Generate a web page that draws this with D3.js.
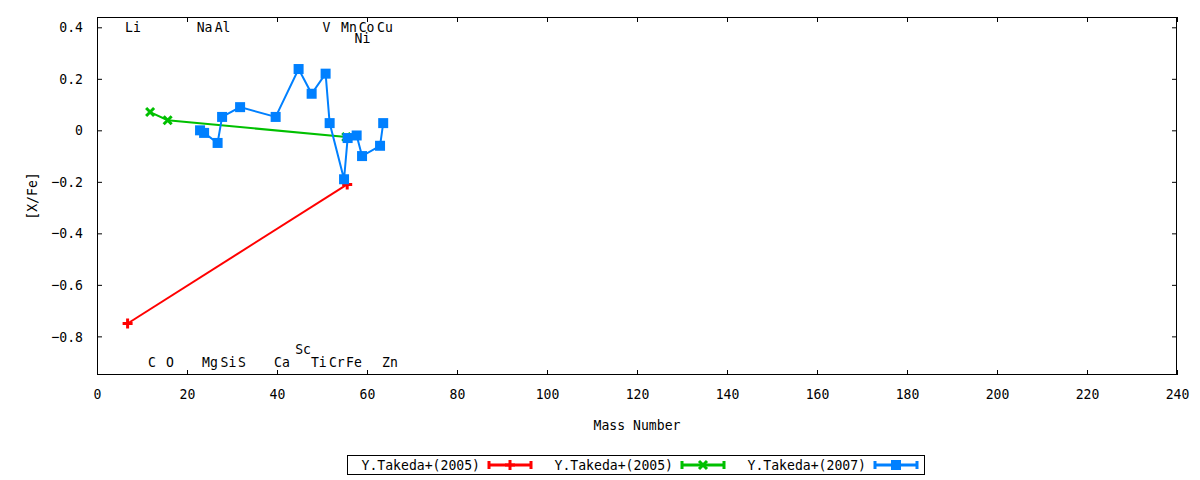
<!DOCTYPE html>
<html><head><meta charset="utf-8">
<script src="https://cdn.jsdelivr.net/npm/d3@7"></script>
<style>
html,body{margin:0;padding:0;background:#fff;}
svg text{font-family:"DejaVu Sans Mono",monospace;font-size:14.5px;fill:#000;}
</style></head>
<body><svg id="chart" width="1200" height="480"></svg>
<script>
// ---- data ----
const seriesNames = ["Y.Takeda+(2005)", "Y.Takeda+(2005)", "Y.Takeda+(2007)"];
const redMass = [6.8, 55.6];
const redVal = [-0.75, -0.21];
const greenMass = [11.8, 15.7, 55.4];
const greenVal = [0.071, 0.039, -0.026];
const blueMass = [22.9, 23.8, 26.8, 27.8, 31.8, 39.7, 44.8, 47.7, 50.8, 51.7, 54.9, 55.7, 57.7, 58.9, 62.9, 63.6];
const blueVal = [0.0, -0.01, -0.049, 0.052, 0.09, 0.052, 0.238, 0.142, 0.22, 0.028, -0.19, -0.03, -0.02, -0.1, -0.06, 0.028];
const elemNames = ["Li","Na","Al","V","Mn","Co","Cu","Ni","C","O","Mg","Si","S","Ca","Sc","Ti","Cr","Fe","Zn"];
const elemX = [8.0, 23.9, 27.9, 51.0, 56.0, 59.9, 64.0, 59.0, 12.2, 16.2, 25.1, 29.2, 32.2, 41.1, 45.8, 49.3, 53.3, 57.1, 65.1];
const elemY = [0.4, 0.4, 0.4, 0.4, 0.4, 0.4, 0.4, 0.36, -0.9, -0.9, -0.9, -0.9, -0.9, -0.9, -0.85, -0.9, -0.9, -0.9, -0.9];
const xTicks = [0,20,40,60,80,100,120,140,160,180,200,220,240];
const yTicks = [0.4,0.2,0,-0.2,-0.4,-0.6,-0.8];
const xTitle = "Mass Number";
const yTitle = "[X/Fe]";

// ---- layout ----
const L = 97, R = 1177, T = 17, B = 375;
const CW = 7.9; // condensed monospace char width
const svg = d3.select("#chart");
const x = d3.scaleLinear().domain([0, 240]).range([L, R]);
const y = d3.scaleLinear().domain([-0.95, 0.44]).range([B, T]);
const tick = 5;
function condense(sel){
  sel.each(function(){
    const t = this.textContent;
    if(t && t.length) d3.select(this).attr("textLength", t.length*CW).attr("lengthAdjust","spacingAndGlyphs");
  });
}

// axes (ticks inside, mirrored)
const fmtY = d => d === 0 ? "0" : d3.format(".1f")(d);
const styleAxis = g => { g.select(".domain").remove(); g.selectAll("line").attr("stroke","#000"); g.selectAll("text").attr("font-size",null).attr("font-family",null).attr("fill","#000"); };
svg.append("g").attr("transform",`translate(0,${B})`)
  .call(d3.axisBottom(x).tickValues(xTicks).tickSizeInner(-tick).tickSizeOuter(0).tickPadding(14).tickFormat(d3.format("d")))
  .call(styleAxis);
svg.append("g").attr("transform",`translate(0,${T})`)
  .call(d3.axisTop(x).tickValues(xTicks).tickSizeInner(-tick).tickSizeOuter(0).tickFormat(""))
  .call(styleAxis);
svg.append("g").attr("transform",`translate(${L},0)`)
  .call(d3.axisLeft(y).tickValues(yTicks).tickSizeInner(-tick).tickSizeOuter(0).tickPadding(14).tickFormat(fmtY))
  .call(styleAxis);
svg.append("g").attr("transform",`translate(${R},0)`)
  .call(d3.axisRight(y).tickValues(yTicks).tickSizeInner(-tick).tickSizeOuter(0).tickFormat(""))
  .call(styleAxis);

svg.append("rect").attr("x",L+0.5).attr("y",T+0.5).attr("width",R-L-1).attr("height",B-T-1)
  .attr("fill","none").attr("stroke","#000").attr("stroke-width",1);

// axis titles
svg.append("text").attr("x",(L+R)/2).attr("y",425).attr("dy","0.35em").attr("text-anchor","middle").text(xTitle);
svg.append("text").attr("transform",`translate(32,${(T+B)/2}) rotate(-90)`).attr("dy","0.35em").attr("text-anchor","middle").text(yTitle);

// element labels
elemNames.forEach((n,i)=>{
  svg.append("text").attr("x",x(elemX[i])).attr("y",y(elemY[i])).attr("dy","0.35em")
    .attr("text-anchor","middle").text(n);
});

// markers
function marker(g, type, cx, cy, color){
  if(type==="plus"){
    g.append("path").attr("d",`M${cx-5},${cy}H${cx+5}M${cx},${cy-5}V${cy+5}`)
      .attr("stroke",color).attr("stroke-width",3).attr("fill","none");
  } else if(type==="cross"){
    g.append("path").attr("d",`M${cx-4},${cy-4}L${cx+4},${cy+4}M${cx-4},${cy+4}L${cx+4},${cy-4}`)
      .attr("stroke",color).attr("stroke-width",3).attr("fill","none");
  } else {
    g.append("rect").attr("x",cx-5).attr("y",cy-5).attr("width",10).attr("height",10).attr("fill",color);
  }
}

const series = [
  {mass:redMass, val:redVal, color:"#ff0000", type:"plus"},
  {mass:greenMass, val:greenVal, color:"#00c000", type:"cross"},
  {mass:blueMass, val:blueVal, color:"#0080ff", type:"square"}
];
const line = d3.line().x(d=>x(d[0])).y(d=>y(d[1]));
series.forEach(s=>{
  const pts = s.mass.map((m,i)=>[m, s.val[i]]);
  const g = svg.append("g");
  g.append("path").attr("d",line(pts)).attr("fill","none").attr("stroke",s.color).attr("stroke-width",2);
  pts.forEach(p=>marker(g, s.type, x(p[0]), y(p[1]), s.color));
});

// legend
const lg = svg.append("g");
lg.append("rect").attr("x",347.5).attr("y",455.5).attr("width",577).attr("height",19)
  .attr("fill","#fff").attr("stroke","#000").attr("stroke-width",1);
series.forEach((s,i)=>{
  const x0 = 347 + i*193;
  const cy = 465;
  lg.append("text").attr("x",x0+133).attr("y",cy).attr("dy","0.35em").attr("text-anchor","end").text(seriesNames[i]);
  const sx1 = x0+142, sx2 = x0+184;
  lg.append("path").attr("d",`M${sx1},${cy}H${sx2}M${sx1},${cy-4}V${cy+4}M${sx2},${cy-4}V${cy+4}`)
    .attr("stroke",s.color).attr("stroke-width",3).attr("fill","none");
  marker(lg, s.type, (sx1+sx2)/2, cy, s.color);
});

svg.selectAll("text").call(condense);
</script></body></html>
